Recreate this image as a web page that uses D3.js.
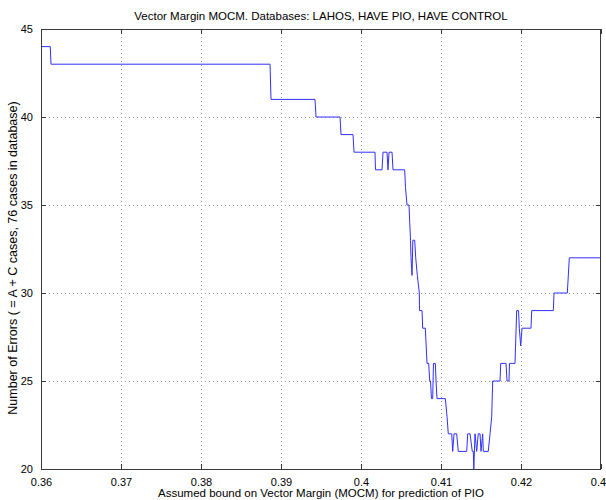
<!DOCTYPE html>
<html>
<head>
<meta charset="utf-8">
<script src="https://cdn.jsdelivr.net/npm/d3@7"></script>
<style>
  html, body { margin: 0; padding: 0; background: #fff; }
  svg { display: block; font-family: "Liberation Sans", Arial, Helvetica, sans-serif; }
</style>
</head>
<body>
<svg id="chart" width="606" height="500"></svg>
<script>
// ---- data ----
const titleText = "Vector Margin MOCM. Databases: LAHOS, HAVE PIO, HAVE CONTROL";
const xLabelText = "Assumed bound on Vector Margin (MOCM) for prediction of PIO";
const yLabelText = "Number of Errors ( = A + C cases, 76 cases in database)";

const xTicks = [0.36, 0.37, 0.38, 0.39, 0.40, 0.41, 0.42, 0.43];
const xTickLabels = ["0.36", "0.37", "0.38", "0.39", "0.4", "0.41", "0.42", "0.43"];
const yTicks = [20, 25, 30, 35, 40, 45];
const yTickLabels = ["20", "25", "30", "35", "40", "45"];

const boundX = [
  0.36, 0.36116, 0.36125, 0.38863, 0.38875, 0.39425, 0.39438, 0.39738, 0.3975, 0.399,
  0.39913, 0.40175, 0.40181, 0.40263, 0.40275, 0.40325, 0.40338, 0.4035, 0.40388, 0.404,
  0.40546, 0.40556, 0.40575, 0.406, 0.40609, 0.40619, 0.40625, 0.40638, 0.40648, 0.40671,
  0.40684, 0.40704, 0.40729, 0.40731, 0.40763, 0.40771, 0.40804, 0.40825, 0.40846, 0.40859,
  0.40869, 0.40881, 0.40896, 0.40906, 0.40929, 0.40938, 0.4095, 0.41054, 0.41075, 0.41091,
  0.41134, 0.41146, 0.41163, 0.41196, 0.41216, 0.41321, 0.41334, 0.41363, 0.41391, 0.41404,
  0.4141, 0.41425, 0.41446, 0.41466, 0.41488, 0.415, 0.41521, 0.41529, 0.41591, 0.41613,
  0.41634, 0.41646, 0.41738, 0.41746, 0.41813, 0.41825, 0.4185, 0.41856, 0.41925, 0.41946,
  0.41969, 0.41979, 0.41996, 0.42013, 0.42125, 0.42134, 0.42404, 0.42413, 0.42579, 0.42604,
  0.43
];
const errorCount = [
  44, 44, 43, 43, 41, 41, 40, 40, 39, 39,
  38, 38, 37, 37, 38, 38, 37, 38, 38, 37,
  37, 36, 35, 35, 34, 33, 32, 31, 33, 33,
  32, 31, 30, 29, 29, 28, 28, 26, 26, 25,
  25, 24, 24, 26, 26, 25, 24, 24, 23, 22,
  22, 21, 22, 22, 21, 21, 22, 22, 21, 21,
  20, 22, 21, 22, 22, 21, 22, 21, 21, 22,
  23, 25, 25, 26, 26, 25, 25, 26, 26, 29,
  29, 28, 27, 28, 28, 29, 29, 30, 30, 32,
  32
];

// ---- layout ----
const svg = d3.select("#chart");
const m = { left: 41, right: 601, top: 29, bottom: 469 };
const W = m.right - m.left, H = m.bottom - m.top;

const x = d3.scaleLinear().domain([0.36, 0.43]).range([m.left, m.right]);
const y = d3.scaleLinear().domain([20, 45]).range([m.bottom, m.top]);

const axisColor = "#3a3a3a";
const gridColor = "#9a9a9a";

// grid
const grid = svg.append("g");
grid.selectAll("line.gx").data(xTicks.slice(1, -1)).join("line")
  .attr("x1", d => Math.round(x(d)) + 0.5).attr("x2", d => Math.round(x(d)) + 0.5)
  .attr("y1", m.top).attr("y2", m.bottom)
  .attr("stroke", gridColor).attr("stroke-width", 1).attr("stroke-dasharray", "1,3");
grid.selectAll("line.gy").data(yTicks.slice(1, -1)).join("line")
  .attr("y1", d => Math.round(y(d)) + 0.5).attr("y2", d => Math.round(y(d)) + 0.5)
  .attr("x1", m.left).attr("x2", m.right)
  .attr("stroke", gridColor).attr("stroke-width", 1).attr("stroke-dasharray", "1,3");

// data line
const pts = boundX.map((v, i) => [v, errorCount[i]]);
svg.append("path")
  .datum(pts)
  .attr("fill", "none")
  .attr("stroke", "#3030ff")
  .attr("stroke-width", 1)
  .attr("d", d3.line().x(d => x(d[0])).y(d => y(d[1])));

// axes (ticks inside, MATLAB style)
function styleAxis(g) {
  g.select(".domain").remove();
  g.selectAll(".tick line").attr("stroke", axisColor);
  g.selectAll(".tick text").attr("fill", "#000").style("font-size", "11px");
}
const xb = svg.append("g").attr("transform", `translate(0,${m.bottom})`)
  .call(d3.axisBottom(x).tickValues(xTicks).tickFormat((d, i) => xTickLabels[i])
    .tickSizeInner(-5).tickSizeOuter(0).tickPadding(9));
styleAxis(xb);
const xt = svg.append("g").attr("transform", `translate(0,${m.top})`)
  .call(d3.axisTop(x).tickValues(xTicks).tickFormat("").tickSizeInner(-5).tickSizeOuter(0));
styleAxis(xt);
const yl = svg.append("g").attr("transform", `translate(${m.left},0)`)
  .call(d3.axisLeft(y).tickValues(yTicks).tickFormat((d, i) => yTickLabels[i])
    .tickSizeInner(-5).tickSizeOuter(0).tickPadding(8));
styleAxis(yl);
const yr = svg.append("g").attr("transform", `translate(${m.right},0)`)
  .call(d3.axisRight(y).tickValues(yTicks).tickFormat("").tickSizeInner(-5).tickSizeOuter(0));
styleAxis(yr);

// frame
svg.append("rect")
  .attr("x", m.left + 0.5).attr("y", m.top + 0.5)
  .attr("width", W - 1).attr("height", H)
  .attr("fill", "none").attr("stroke", axisColor).attr("stroke-width", 1);

// titles
svg.append("text").attr("x", (m.left + m.right) / 2).attr("y", 20)
  .attr("text-anchor", "middle").style("font-size", "11.5px").text(titleText);
svg.append("text").attr("x", (m.left + m.right) / 2).attr("y", 497)
  .attr("text-anchor", "middle").style("font-size", "11.5px").text(xLabelText);
svg.append("text").attr("transform", `translate(17,258) rotate(-90)`)
  .attr("text-anchor", "middle").style("font-size", "12.5px").text(yLabelText);
</script>
</body>
</html>
